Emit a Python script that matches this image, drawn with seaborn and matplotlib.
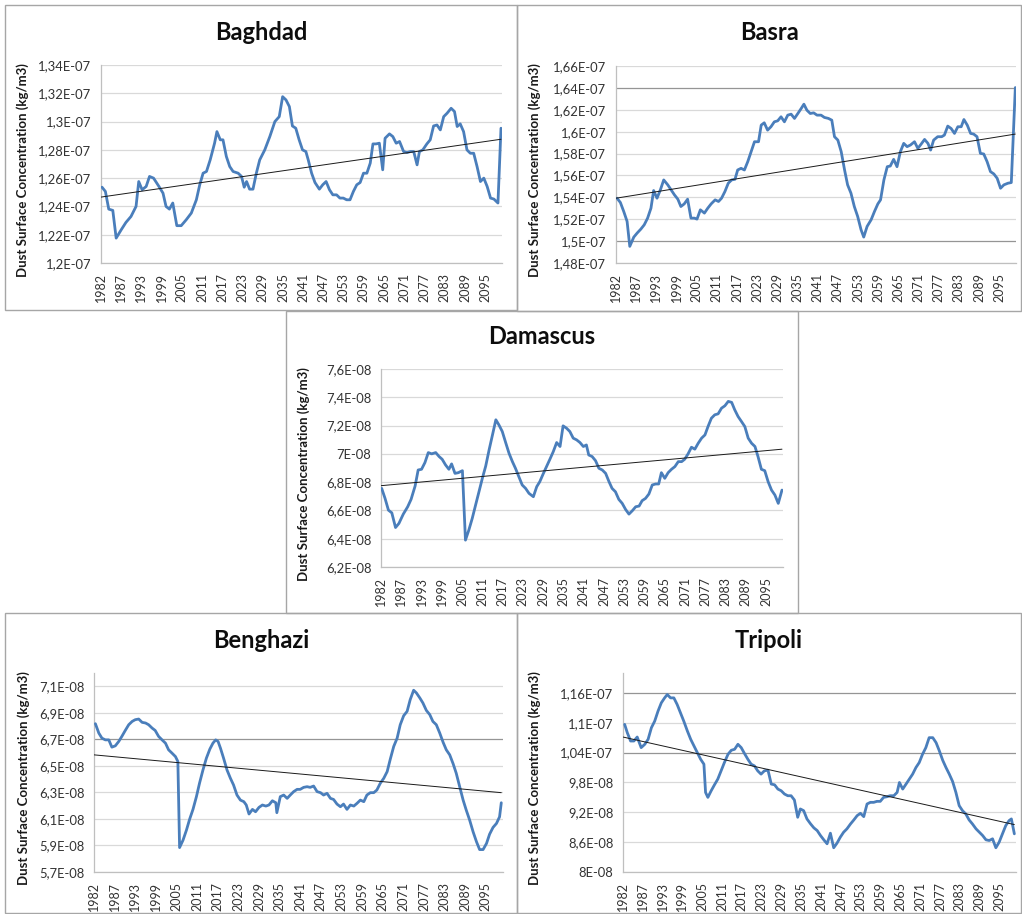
import matplotlib
matplotlib.use("Agg")
import matplotlib.pyplot as plt
from matplotlib.patches import Rectangle
import numpy as np
import pandas as pd
import seaborn as sns

# x axis: one category per year, labelled every 6th category
year_labels = ['1982', '1987', '1993', '1999', '2005', '2011', '2017', '2023', '2029', '2035',
               '2041', '2047', '2053', '2059', '2065', '2071', '2077', '2083', '2089', '2095']
N_CAT = 119

# values (t = category index, v = concentration in units of `scale`)
baghdad_t = [0.3, 1.3, 2.3, 3.5, 4.5, 6.0, 7.4, 8.9, 10.4, 11.2, 12.2, 13.4, 14.4, 15.6, 17.2, 18.4,
             19.3, 20.3, 21.3, 22.5, 23.8, 25.3, 26.8, 28.3, 29.3, 30.3, 31.3, 32.4, 33.7, 34.4, 35.4,
             36.2, 37.2, 38.2, 39.2, 40.7, 41.7, 42.5, 43.2, 44.1, 45.1, 46.1, 47.1, 48.6, 50.1, 51.6,
             52.9, 53.9, 54.9, 55.9, 56.8, 57.8, 58.8, 59.8, 60.8, 61.5, 62.5, 63.5, 64.8, 65.8, 66.8,
             67.8, 68.8, 69.9, 70.9, 71.9, 72.9, 73.9, 74.9, 75.9, 76.9, 77.9, 78.9, 79.9, 80.7, 81.6,
             82.6, 83.6, 84.3, 85.6, 86.6, 87.6, 88.6, 89.8, 90.8, 91.8, 92.8, 93.8, 94.5, 95.5, 96.7,
             97.7, 98.7, 99.7, 100.7, 101.7, 102.7, 103.9, 104.9, 105.7, 106.6, 107.6, 108.6, 109.6,
             110.6, 111.6, 112.6, 113.6, 114.6, 115.6, 116.6, 117.8, 118.7]
baghdad_v = [1.2536, 1.2506, 1.2381, 1.2372, 1.2176, 1.2235, 1.2287, 1.2329, 1.2400, 1.2576, 1.2518,
             1.2541, 1.2612, 1.2600, 1.2541, 1.2494, 1.2400, 1.2381, 1.2424, 1.2264, 1.2264, 1.2306,
             1.2353, 1.2447, 1.2553, 1.2635, 1.2647, 1.2729, 1.2847, 1.2929, 1.2871, 1.2871, 1.2753,
             1.2682, 1.2647, 1.2635, 1.2612, 1.2536, 1.2576, 1.2522, 1.2522, 1.2635, 1.2729, 1.2800,
             1.2894, 1.3000, 1.3035, 1.3176, 1.3153, 1.3106, 1.2969, 1.2953, 1.2871, 1.2800, 1.2788,
             1.2729, 1.2635, 1.2569, 1.2522, 1.2553, 1.2576, 1.2518, 1.2482, 1.2482, 1.2459, 1.2459,
             1.2447, 1.2447, 1.2506, 1.2553, 1.2569, 1.2635, 1.2635, 1.2706, 1.2842, 1.2842, 1.2847,
             1.2659, 1.2882, 1.2913, 1.2894, 1.2847, 1.2859, 1.2788, 1.2781, 1.2788, 1.2788, 1.2694,
             1.2788, 1.2800, 1.2842, 1.2871, 1.2969, 1.2976, 1.2941, 1.3035, 1.3059, 1.3094, 1.3071,
             1.2965, 1.2984, 1.2929, 1.2800, 1.2776, 1.2776, 1.2682, 1.2576, 1.2600, 1.2541, 1.2459,
             1.2452, 1.2424, 1.2953]
baghdad_trend = [1.2466, 1.2875]

basra_t = [0.3, 1.3, 2.3, 3.3, 4.1, 5.3, 6.3, 7.4, 8.4, 9.4, 10.4, 11.2, 12.2, 13.2, 14.2, 15.4, 16.4,
           17.4, 18.4, 19.3, 20.3, 21.3, 22.3, 23.3, 24.1, 25.1, 26.3, 27.3, 28.3, 29.5, 30.5, 31.4,
           32.4, 33.4, 34.4, 35.4, 36.2, 37.2, 38.2, 39.2, 40.2, 41.2, 42.4, 43.2, 44.1, 45.1, 46.1,
           47.1, 48.1, 49.1, 50.1, 51.1, 52.1, 53.1, 54.1, 55.1, 55.9, 56.8, 57.8, 58.8, 59.8, 61.0,
           62.0, 63.2, 64.2, 65.0, 66.0, 67.0, 68.0, 68.9, 69.9, 70.9, 71.9, 72.9, 73.7, 74.7, 75.9,
           76.9, 77.9, 78.7, 79.7, 80.7, 81.6, 82.6, 83.6, 84.6, 85.6, 86.6, 87.6, 88.8, 89.8, 90.8,
           91.8, 92.8, 93.6, 94.5, 95.7, 96.9, 97.7, 98.7, 99.7, 100.7, 101.7, 102.7, 103.5, 104.5,
           105.5, 106.4, 107.4, 108.4, 109.4, 110.4, 111.4, 112.4, 113.4, 114.4, 115.4, 116.6, 117.6,
           118.8]
basra_v = [1.5392, 1.5353, 1.5271, 1.5180, 1.4952, 1.5037, 1.5074, 1.5110, 1.5149, 1.5210, 1.5301,
           1.5462, 1.5392, 1.5468, 1.5559, 1.5514, 1.5468, 1.5422, 1.5383, 1.5316, 1.5340, 1.5383,
           1.5210, 1.5210, 1.5201, 1.5286, 1.5256, 1.5301, 1.5340, 1.5377, 1.5362, 1.5392, 1.5453,
           1.5529, 1.5559, 1.5565, 1.5650, 1.5665, 1.5650, 1.5726, 1.5817, 1.5908, 1.5908, 1.6060,
           1.6081, 1.6014, 1.6045, 1.6090, 1.6099, 1.6136, 1.6090, 1.6151, 1.6160, 1.6121, 1.6166,
           1.6212, 1.6251, 1.6196, 1.6166, 1.6172, 1.6151, 1.6151, 1.6130, 1.6121, 1.6105, 1.5954,
           1.5923, 1.5817, 1.5650, 1.5514, 1.5438, 1.5316, 1.5225, 1.5104, 1.5037, 1.5134, 1.5195,
           1.5271, 1.5340, 1.5377, 1.5559, 1.5680, 1.5686, 1.5747, 1.5680, 1.5817, 1.5893, 1.5863,
           1.5878, 1.5908, 1.5847, 1.5887, 1.5929, 1.5893, 1.5832, 1.5923, 1.5954, 1.5954, 1.5969,
           1.6051, 1.6029, 1.5984, 1.6045, 1.6045, 1.6111, 1.6060, 1.5984, 1.5978, 1.5954, 1.5802,
           1.5796, 1.5726, 1.5635, 1.5614, 1.5574, 1.5483, 1.5514, 1.5529, 1.5535, 1.6403]
basra_trend = [1.5392, 1.5978]

damascus_t = [0.2, 1.2, 2.2, 3.2, 4.3, 5.3, 6.6, 7.9, 8.9, 10.1, 11.0, 12.0, 13.0, 14.0, 15.0, 16.2,
              17.2, 18.1, 19.1, 20.1, 20.9, 21.9, 22.9, 24.1, 25.0, 26.0, 27.0, 28.0, 29.0, 30.0, 31.0,
              32.0, 33.0, 34.0, 34.9, 35.9, 36.9, 37.9, 38.9, 39.8, 40.8, 41.8, 42.8, 43.8, 45.1, 46.1,
              47.0, 48.0, 49.0, 50.0, 51.0, 52.0, 53.0, 53.9, 54.9, 55.9, 56.9, 57.9, 58.9, 59.9, 60.8,
              61.5, 62.5, 63.5, 64.5, 65.5, 66.5, 67.5, 68.4, 69.4, 70.4, 71.4, 72.4, 73.4, 74.4, 75.4,
              76.4, 77.3, 78.3, 79.3, 80.3, 81.3, 82.2, 83.0, 84.0, 85.0, 86.0, 87.0, 88.0, 89.0, 89.9,
              90.9, 91.9, 92.9, 93.9, 94.9, 95.9, 96.8, 97.8, 98.8, 99.8, 100.8, 101.8, 102.8, 103.8,
              104.7, 105.7, 106.7, 107.7, 108.7, 109.7, 110.7, 111.6, 112.6, 113.6, 114.6, 115.6, 116.6,
              117.6, 118.7]
damascus_v = [6.756, 6.685, 6.602, 6.583, 6.479, 6.508, 6.574, 6.626, 6.678, 6.773, 6.886, 6.891,
              6.938, 7.009, 7.000, 7.009, 6.981, 6.962, 6.922, 6.891, 6.929, 6.862, 6.867, 6.881,
              6.390, 6.461, 6.543, 6.638, 6.732, 6.827, 6.914, 7.028, 7.134, 7.241, 7.205, 7.158,
              7.080, 7.004, 6.945, 6.898, 6.839, 6.780, 6.756, 6.721, 6.697, 6.768, 6.803, 6.858,
              6.910, 6.962, 7.016, 7.080, 7.052, 7.198, 7.182, 7.158, 7.111, 7.099, 7.080, 7.052,
              7.063, 6.992, 6.981, 6.952, 6.898, 6.886, 6.862, 6.803, 6.756, 6.732, 6.678, 6.650,
              6.607, 6.574, 6.598, 6.626, 6.631, 6.669, 6.685, 6.716, 6.780, 6.787, 6.787, 6.867,
              6.827, 6.867, 6.891, 6.910, 6.945, 6.945, 6.962, 7.000, 7.047, 7.033, 7.075, 7.111,
              7.134, 7.193, 7.252, 7.276, 7.283, 7.323, 7.340, 7.371, 7.364, 7.312, 7.264, 7.229,
              7.193, 7.111, 7.075, 7.052, 6.981, 6.891, 6.881, 6.803, 6.744, 6.709, 6.650, 6.744]
damascus_trend = [6.775, 7.033]

benghazi_t = [0.4, 1.4, 2.3, 3.3, 4.3, 5.2, 6.2, 7.2, 8.1, 9.1, 10.1, 11.1, 12.0, 13.0, 14.0, 15.0,
              15.9, 16.9, 17.8, 18.8, 19.8, 20.8, 21.7, 22.7, 23.7, 24.4, 24.9, 25.9, 26.9, 27.8, 28.8,
              29.8, 30.7, 31.7, 32.7, 33.7, 34.6, 35.4, 36.1, 36.8, 37.7, 38.7, 39.7, 40.6, 41.6, 42.6,
              43.6, 44.3, 45.1, 46.1, 47.0, 48.0, 49.0, 50.0, 50.9, 51.9, 52.9, 53.2, 54.2, 55.2, 56.2,
              57.1, 58.1, 59.1, 60.0, 61.0, 62.0, 62.9, 63.9, 64.9, 65.9, 66.8, 67.8, 68.8, 69.7, 70.7,
              71.7, 72.6, 73.6, 74.6, 75.6, 76.5, 77.5, 78.5, 79.4, 80.4, 81.4, 82.3, 83.3, 84.3, 85.3,
              86.2, 87.2, 88.2, 89.1, 90.1, 91.1, 92.0, 93.0, 93.8, 94.8, 95.7, 96.7, 97.7, 98.6, 99.6,
              100.6, 101.6, 102.5, 103.5, 104.5, 105.4, 106.4, 107.4, 108.3, 109.3, 110.3, 111.3, 112.2,
              113.2, 114.2, 115.1, 116.1, 117.1, 118.0, 118.5]
benghazi_v = [6.818, 6.747, 6.709, 6.696, 6.696, 6.641, 6.651, 6.684, 6.722, 6.767, 6.810, 6.835,
              6.848, 6.853, 6.828, 6.823, 6.810, 6.785, 6.767, 6.722, 6.696, 6.671, 6.621, 6.596,
              6.570, 6.533, 5.884, 5.940, 6.016, 6.096, 6.172, 6.268, 6.369, 6.469, 6.558, 6.626,
              6.671, 6.696, 6.684, 6.633, 6.558, 6.469, 6.406, 6.356, 6.280, 6.242, 6.230, 6.205,
              6.137, 6.172, 6.154, 6.187, 6.205, 6.197, 6.205, 6.237, 6.222, 6.147, 6.268, 6.280,
              6.255, 6.280, 6.306, 6.323, 6.323, 6.338, 6.343, 6.338, 6.348, 6.306, 6.298, 6.280,
              6.293, 6.255, 6.247, 6.212, 6.192, 6.212, 6.172, 6.205, 6.197, 6.217, 6.242, 6.230,
              6.280, 6.298, 6.298, 6.318, 6.369, 6.406, 6.457, 6.550, 6.646, 6.709, 6.810, 6.878,
              6.911, 6.999, 7.070, 7.050, 7.012, 6.974, 6.918, 6.886, 6.835, 6.810, 6.747, 6.676,
              6.621, 6.583, 6.515, 6.444, 6.343, 6.242, 6.167, 6.091, 6.003, 5.927, 5.869, 5.869,
              5.915, 5.985, 6.036, 6.066, 6.116, 6.222]
benghazi_trend = [6.583, 6.298]

tripoli_t = [0.5, 1.3, 2.3, 3.3, 4.3, 5.5, 6.6, 7.6, 8.6, 9.6, 10.6, 11.6, 12.6, 13.4, 14.4, 15.4,
             16.4, 17.4, 18.4, 19.5, 20.5, 21.5, 22.5, 23.5, 24.5, 25.0, 25.7, 26.7, 27.7, 28.7, 29.7,
             30.7, 31.8, 32.8, 33.8, 34.8, 35.8, 36.8, 37.8, 38.8, 39.8, 40.8, 41.8, 42.8, 43.9, 44.9,
             45.9, 46.9, 47.9, 48.9, 49.9, 50.9, 51.9, 52.9, 53.7, 54.7, 55.7, 56.8, 57.8, 58.8, 59.8,
             60.8, 61.8, 62.8, 63.8, 64.8, 65.8, 66.8, 67.8, 68.9, 69.9, 70.9, 71.9, 72.9, 73.9, 74.9,
             75.9, 76.9, 77.9, 78.9, 79.9, 80.9, 82.0, 83.0, 83.7, 84.7, 85.7, 86.7, 87.7, 88.7, 89.7,
             90.7, 91.7, 92.7, 93.8, 94.8, 95.8, 96.8, 97.8, 98.8, 99.8, 100.8, 101.8, 102.8, 103.8,
             104.8, 105.8, 106.9, 107.9, 108.9, 109.9, 110.9, 111.9, 112.9, 113.9, 114.9, 115.9, 116.9,
             117.6, 118.5]
tripoli_v = [10.967, 10.800, 10.633, 10.633, 10.713, 10.500, 10.567, 10.667, 10.900, 11.033, 11.233,
             11.400, 11.500, 11.567, 11.500, 11.500, 11.367, 11.200, 11.033, 10.833, 10.667, 10.533,
             10.400, 10.267, 10.167, 9.600, 9.500, 9.633, 9.753, 9.867, 10.033, 10.200, 10.367,
             10.447, 10.467, 10.567, 10.500, 10.380, 10.267, 10.167, 10.133, 10.033, 9.967, 10.033,
             10.047, 9.767, 9.753, 9.667, 9.633, 9.567, 9.533, 9.533, 9.447, 9.100, 9.267, 9.233,
             9.067, 8.967, 8.887, 8.833, 8.733, 8.647, 8.567, 8.780, 8.487, 8.580, 8.700, 8.800,
             8.867, 8.967, 9.047, 9.133, 9.180, 9.113, 9.367, 9.400, 9.400, 9.420, 9.420, 9.500,
             9.513, 9.533, 9.533, 9.600, 9.800, 9.667, 9.767, 9.867, 9.967, 10.100, 10.200, 10.367,
             10.500, 10.700, 10.700, 10.600, 10.433, 10.247, 10.100, 9.967, 9.820, 9.600, 9.333,
             9.233, 9.167, 9.047, 8.967, 8.867, 8.800, 8.733, 8.647, 8.633, 8.667, 8.487, 8.600,
             8.767, 8.933, 9.033, 9.067, 8.767]
tripoli_trend = [10.713, 8.953]

# name, t, values, trend ends, scale, y min, y max, first tick, tick step, n ticks, darker grid levels,
# axes rect [left, top, right, bottom] px, panel box [x0, y0, x1, y1] px, y-label centre x px
panels = [
    ('Baghdad', baghdad_t, baghdad_v, baghdad_trend, 1e-7, 1.20, 1.34, 1.20, 0.02, 8, [],
     [101, 65, 502, 263], [5, 5, 517, 310], 22),
    ('Basra', basra_t, basra_v, basra_trend, 1e-7, 1.48, 1.66, 1.48, 0.02, 10, [1.64, 1.50],
     [616, 66, 1016, 263], [517, 5, 1021, 311], 534),
    ('Damascus', damascus_t, damascus_v, damascus_trend, 1e-8, 6.2, 7.6, 6.2, 0.2, 8, [],
     [381, 369, 783, 567], [286, 311, 798, 613], 303),
    ('Benghazi', benghazi_t, benghazi_v, benghazi_trend, 1e-8, 5.7, 7.2, 5.7, 0.2, 8, [6.7],
     [94, 673, 503, 872], [5, 613, 517, 913], 23),
    ('Tripoli', tripoli_t, tripoli_v, tripoli_trend, 1e-8, 8.0, 12.0, 8.0, 0.6, 7, [11.6, 10.4],
     [623, 673, 1016, 872], [517, 613, 1021, 913], 534),
]

W, H = 1022, 914
LINE_BLUE = '#4a7ebb'
GRID = '#d9d9d9'
AXIS = '#bfbfbf'
TEXT = '#333333'


def excel_general(v, pos=None):
    m, e = f"{v:.2E}".split("E")
    m = m.rstrip("0").rstrip(".")
    return f"{m}E{e}".replace(".", ",")


sns.set_theme(style="white")
plt.rcParams['font.family'] = ['Lato', 'DejaVu Sans']

fig = plt.figure(figsize=(W / 100, H / 100), dpi=100)

for (name, t, v, trend, scale, ymin, ymax, tick0, step, nticks, dark,
     rect, box, ylab_x) in panels:
    # panel frame
    fig.patches.append(Rectangle((box[0] / W, 1 - box[3] / H), (box[2] - box[0]) / W,
                                 (box[3] - box[1]) / H, transform=fig.transFigure,
                                 fill=False, edgecolor='#a6a6a6', linewidth=1.0, zorder=0))

    l, tp, r, b = rect
    ax = fig.add_axes([l / W, 1 - b / H, (r - l) / W, (b - tp) / H])
    ax.set_facecolor('none')

    df = pd.DataFrame({'t': t, 'v': np.array(v) * scale})
    trend_df = pd.DataFrame({'t': [0, t[-1]], 'v': np.array(trend) * scale})

    sns.lineplot(data=df, x='t', y='v', ax=ax, color=LINE_BLUE, linewidth=2.0,
                 estimator=None, zorder=3)
    sns.lineplot(data=trend_df, x='t', y='v', ax=ax, color='#1a1a1a', linewidth=0.7,
                 estimator=None, zorder=4)

    ticks = [(tick0 + i * step) * scale for i in range(nticks)]
    ax.set_yticks(ticks)
    ax.set_ylim(ymin * scale, ymax * scale)
    ax.yaxis.set_major_formatter(plt.FuncFormatter(excel_general))
    for y in ticks:
        is_dark = any(abs(y - d * scale) < 1e-3 * scale for d in dark)
        ax.axhline(y, color='#959595' if is_dark else GRID, linewidth=0.9, zorder=1)

    ax.set_xlim(0, N_CAT)
    ax.set_xticks(range(0, 6 * len(year_labels), 6))
    ax.set_xticklabels(year_labels, rotation=90)

    ax.tick_params(axis='both', length=0, colors=TEXT)
    ax.tick_params(axis='y', labelsize=9.4, pad=7)
    ax.tick_params(axis='x', labelsize=9, pad=7)

    for side in ['top', 'right']:
        ax.spines[side].set_visible(False)
    for side in ['left', 'bottom']:
        ax.spines[side].set_color(AXIS)
        ax.spines[side].set_linewidth(0.9)

    ax.set_xlabel('')
    ax.set_ylabel('Dust Surface Concentration (kg/m3)', fontsize=9.5, fontweight='bold',
                  color='#1a1a1a')
    # label anchor is its right edge once rotated, so shift by half the text height
    ax.yaxis.set_label_coords((ylab_x + 7 - l) / (r - l), 0.47)

    # chart title, centred over the panel frame
    fig.text((box[0] + box[2]) / 2 / W, 1 - (tp - 33) / H, name, ha='center', va='center',
             fontsize=17, fontweight='bold', color='#0d0d0d')

fig.savefig('out.png', dpi=100)
